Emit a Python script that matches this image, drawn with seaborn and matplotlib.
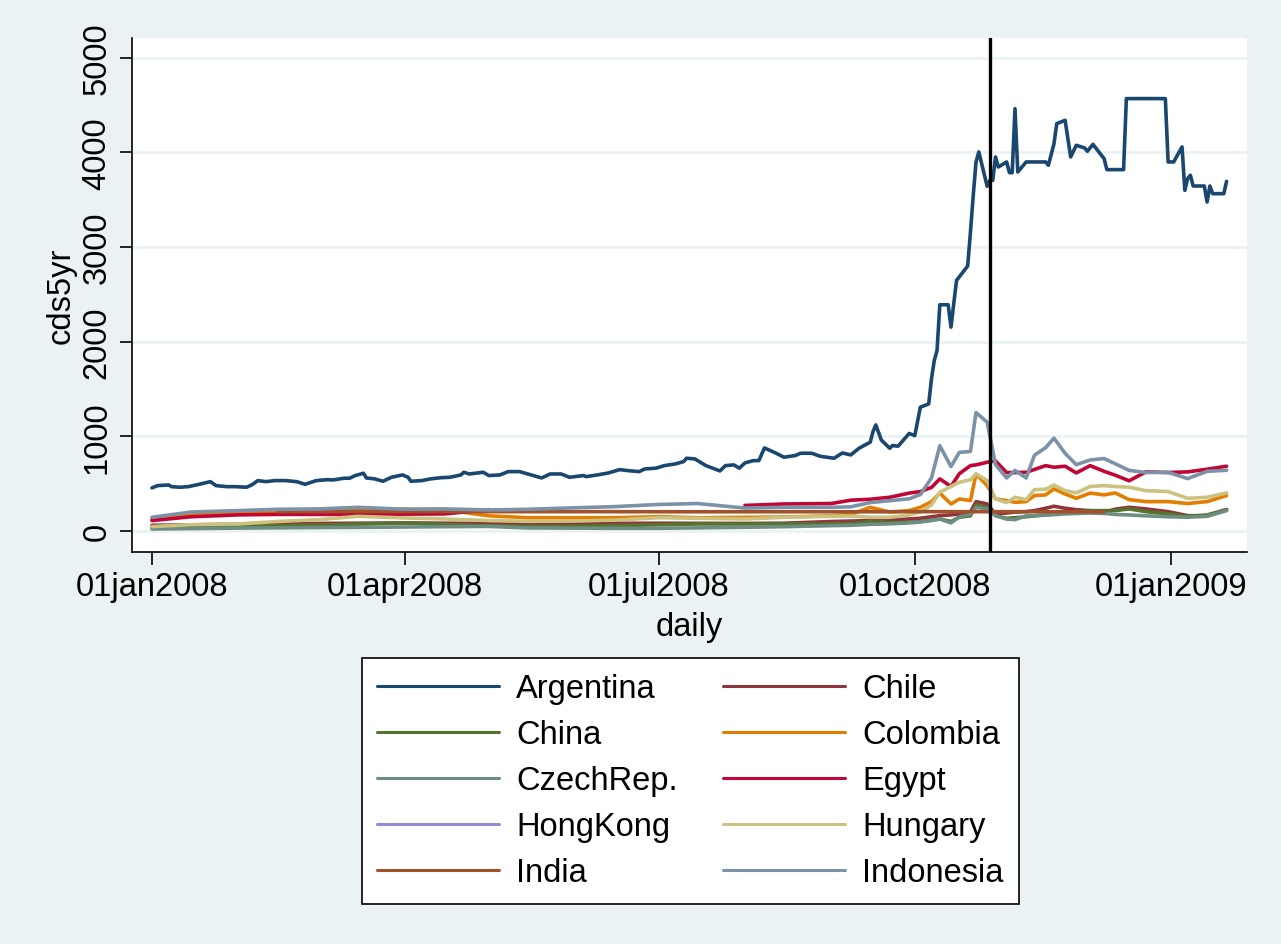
import numpy as np
import pandas as pd
import seaborn as sns
import matplotlib.pyplot as plt
from matplotlib.lines import Line2D

sns.set_style("white")
plt.rcParams['font.family'] = ['Liberation Sans', 'DejaVu Sans']
plt.rcParams['text.color'] = 'black'
plt.rcParams['axes.labelcolor'] = 'black'
plt.rcParams['xtick.color'] = 'black'
plt.rcParams['ytick.color'] = 'black'

nan = np.nan

# Argentina has its own (denser) quote dates
arg_dates = [
    "2008-01-01", "2008-01-03", "2008-01-07", "2008-01-08", "2008-01-11", "2008-01-14",
    "2008-01-17", "2008-01-18", "2008-01-22", "2008-01-24", "2008-01-28", "2008-01-31",
    "2008-02-04", "2008-02-06", "2008-02-08", "2008-02-11", "2008-02-14", "2008-02-18",
    "2008-02-22", "2008-02-25", "2008-02-29", "2008-03-04", "2008-03-06", "2008-03-10",
    "2008-03-12", "2008-03-14", "2008-03-17", "2008-03-18", "2008-03-21", "2008-03-24",
    "2008-03-27", "2008-03-31", "2008-04-02", "2008-04-03", "2008-04-07", "2008-04-10",
    "2008-04-14", "2008-04-17", "2008-04-21", "2008-04-22", "2008-04-24", "2008-04-29",
    "2008-05-01", "2008-05-05", "2008-05-08", "2008-05-12", "2008-05-14", "2008-05-16",
    "2008-05-20", "2008-05-23", "2008-05-27", "2008-05-30", "2008-06-04", "2008-06-05",
    "2008-06-09", "2008-06-13", "2008-06-17", "2008-06-20", "2008-06-24", "2008-06-26",
    "2008-06-30", "2008-07-03", "2008-07-07", "2008-07-10", "2008-07-11", "2008-07-14",
    "2008-07-18", "2008-07-23", "2008-07-25", "2008-07-28", "2008-07-30", "2008-08-01",
    "2008-08-04", "2008-08-06", "2008-08-08", "2008-08-12", "2008-08-15", "2008-08-19",
    "2008-08-21", "2008-08-25", "2008-08-28", "2008-09-02", "2008-09-05", "2008-09-08",
    "2008-09-11", "2008-09-15", "2008-09-16", "2008-09-17", "2008-09-19", "2008-09-22",
    "2008-09-23", "2008-09-25", "2008-09-29", "2008-10-01", "2008-10-03", "2008-10-06",
    "2008-10-07", "2008-10-08", "2008-10-09", "2008-10-10", "2008-10-13", "2008-10-14",
    "2008-10-16", "2008-10-20", "2008-10-21", "2008-10-22", "2008-10-23", "2008-10-24",
    "2008-10-27", "2008-10-28", "2008-10-29", "2008-10-30", "2008-10-31", "2008-11-03",
    "2008-11-04", "2008-11-05", "2008-11-06", "2008-11-07", "2008-11-10", "2008-11-17",
    "2008-11-18", "2008-11-20", "2008-11-21", "2008-11-24", "2008-11-26", "2008-11-28",
    "2008-12-01", "2008-12-02", "2008-12-04", "2008-12-08", "2008-12-09", "2008-12-15",
    "2008-12-16", "2008-12-30", "2008-12-31", "2009-01-02", "2009-01-05", "2009-01-06",
    "2009-01-07", "2009-01-08", "2009-01-09", "2009-01-13", "2009-01-14", "2009-01-15",
    "2009-01-16", "2009-01-20", "2009-01-21",
]
arg_cds = [
    455, 479, 486, 468, 462, 468,
    486, 493, 521, 479, 468, 468,
    462, 489, 532, 521, 532, 532,
    521, 493, 532, 542, 539, 557,
    557, 585, 610, 560, 550, 525,
    567, 592, 567, 525, 532, 550,
    563, 567, 592, 620, 602, 620,
    585, 592, 627, 627, 610, 592,
    560, 602, 602, 567, 585, 574,
    592, 613, 648, 637, 627, 655,
    663, 690, 708, 733, 768, 761,
    690, 634, 690, 698, 663, 719,
    743, 743, 877, 824, 779, 796,
    821, 821, 789, 768, 824, 803,
    874, 938, 1050, 1120, 960, 874,
    902, 895, 1030, 1007, 1307, 1342,
    1607, 1800, 1906, 2389, 2389, 2153,
    2646, 2798, 3157, 3544, 3897, 4003,
    3640, 3703, 3703, 3950, 3844, 3897,
    3784, 3784, 4460, 3791, 3897, 3897,
    3862, 4090, 4302, 4337, 3950, 4073,
    4045, 4010, 4083, 3932, 3816, 3816,
    4566, 4566, 3897, 3897, 4056, 3597,
    3721, 3756, 3643, 3643, 3474, 3643,
    3562, 3562, 3692,
]

# common quote dates for the other countries
dates = [
    "2008-01-01", "2008-01-15", "2008-02-01", "2008-02-15", "2008-03-01", "2008-03-15",
    "2008-04-01", "2008-04-15", "2008-05-01", "2008-05-15", "2008-06-01", "2008-06-15",
    "2008-07-01", "2008-07-15", "2008-08-01", "2008-08-15",
    "2008-09-01", "2008-09-08", "2008-09-15", "2008-09-22", "2008-09-29", "2008-10-03",
    "2008-10-07", "2008-10-10", "2008-10-14", "2008-10-17", "2008-10-21", "2008-10-23",
    "2008-10-27", "2008-10-30", "2008-11-03", "2008-11-06", "2008-11-10", "2008-11-13",
    "2008-11-17", "2008-11-20", "2008-11-24", "2008-11-28", "2008-12-03", "2008-12-08",
    "2008-12-12", "2008-12-17", "2008-12-23", "2008-12-31", "2009-01-07", "2009-01-14",
    "2009-01-21",
]
chile = [
    60, 65, 70, 75, 80, 82, 85, 82, 80, 80, 81, 81, 82, 81, 80, 82,
    100, 105, 109, 115, 127, 135, 150, 162, 170, 180, 200, 310,
    285, 180, 190, 200, 204, 215, 240, 261, 240, 225, 215, 197,
    230, 250, 233, 204, 162, 160, 226,
]
china = [
    39, 45, 50, 55, 62, 72, 85, 70, 55, 48, 50, 56, 65, 74, 74, 74,
    74, 78, 98, 88, 92, 100, 115, 127, 100, 145, 160, 275,
    250, 162, 134, 140, 150, 160, 169, 180, 195, 205, 215, 215,
    215, 233, 204, 180, 155, 169, 226,
]
colombia = [
    130, 170, 195, 210, 215, 225, 230, 225, 160, 140, 140, 140, 151, 140, 144, 148,
    160, 175, 250, 200, 215, 250, 310, 400, 285, 338, 321, 600,
    480, 338, 321, 303, 310, 374, 381, 444, 391, 345, 400, 381,
    402, 331, 310, 310, 290, 310, 374,
]
czech = [
    21, 25, 30, 33, 36, 38, 42, 45, 48, 32, 30, 28, 28, 33, 39, 45,
    56, 60, 70, 75, 85, 95, 110, 127, 85, 150, 175, 250,
    233, 162, 125, 120, 160, 162, 169, 172, 180, 185, 190, 185,
    175, 169, 160, 150, 145, 155, 215,
]
egypt = [
    110, 150, 170, 175, 175, 175, 178, 180, 225, nan, nan, nan, nan, nan, 270, 285,
    290, 325, 335, 356, 400, 416, 460, 550, 470, 605, 690, 698,
    726, 740, 617, 617, 620, 650, 690, 673, 684, 613, 690, 630,
    589, 530, 624, 617, 624, 652, 684,
]
hongkong = [nan] * len(dates)
hungary = [
    46, 67, 74, 100, 120, 155, 137, 127, 110, 102, 105, 115, 140, 134, 127, 144,
    155, 158, 144, 145, 169, 200, 275, 409, 470, 515, 540, 603,
    532, 338, 300, 356, 331, 437, 440, 486, 426, 402, 470, 479,
    470, 462, 426, 416, 345, 356, 402,
]
india = [
    nan, nan, nan, 205, 205, 206, 205, 205, 204, 204, 204, 204, 203, 203, 203, 203,
    203, 203, 203, 203, 204, 204, 204, 204, 204, 204, 204, 204,
    204, 204, 204, 204, 204, 204, 203, 203, 203, 203, 203, 202,
    nan, nan, nan, nan, nan, nan, nan,
]
indonesia = [
    145, 200, 215, 229, 233, 250, 229, 233, 222, 229, 245, 257, 280, 290, 242, 250,
    250, 255, 300, 320, 340, 384, 560, 900, 680, 830, 840, 1250,
    1150, 700, 560, 640, 560, 800, 880, 980, 820, 700, 750, 765,
    710, 640, 617, 620, 553, 630, 641,
]

countries = ["Argentina", "Chile", "China", "Colombia", "CzechRep.",
             "Egypt", "HongKong", "Hungary", "India", "Indonesia"]
colors = ["#1a476f", "#90353b", "#55752f", "#e37e00", "#6e8e84",
          "#c10534", "#938dd2", "#cac27e", "#a0522d", "#7b92a8"]
palette = dict(zip(countries, colors))

tick_dates = ["2008-01-01", "2008-04-01", "2008-07-01", "2008-10-01", "2009-01-01"]
tick_labels = ["01jan2008", "01apr2008", "01jul2008", "01oct2008", "01jan2009"]

# long format table
frames = [pd.DataFrame({"daily": pd.to_datetime(arg_dates), "cds5yr": arg_cds,
                        "country": "Argentina"})]
others = [chile, china, colombia, czech, egypt, hongkong, hungary, india, indonesia]
for name, vals in zip(countries[1:], others):
    frames.append(pd.DataFrame({"daily": pd.to_datetime(dates), "cds5yr": vals,
                                "country": name}))
df = pd.concat(frames, ignore_index=True)
# break lines where a series has no quotes
df["seg"] = df.groupby("country")["cds5yr"].transform(lambda s: s.isna().cumsum())
df = df.dropna(subset=["cds5yr"])
present = [c for c in countries if c in set(df["country"])]

bg = "#eaf2f3"
fs = 23.5
lw = 2.6
fig = plt.figure(figsize=(12.81, 9.45), dpi=100, facecolor=bg)
ax = fig.add_axes([132 / 1281, 1 - 553 / 945, (1247 - 132) / 1281, (553 - 39) / 945])
ax.set_facecolor("white")

sns.lineplot(data=df, x="daily", y="cds5yr", hue="country", units="seg",
             estimator=None, hue_order=present, palette=palette,
             linewidth=lw, legend=False, ax=ax)

ax.axvline(pd.Timestamp("2008-10-28"), color="black", linewidth=2.4)

ax.set_xlim(pd.Timestamp("2007-12-24 20:00"), pd.Timestamp("2009-01-28 08:00"))
ax.set_ylim(-222, 5206)
ax.set_yticks([0, 1000, 2000, 3000, 4000, 5000])
ax.set_xticks(pd.to_datetime(tick_dates))
ax.set_xticklabels(tick_labels)

ax.grid(axis="y", color=bg, linewidth=2)
ax.grid(axis="x", visible=False)
ax.set_axisbelow(True)
for s in ["top", "right"]:
    ax.spines[s].set_visible(False)
for s in ["left", "bottom"]:
    ax.spines[s].set_color("black")
    ax.spines[s].set_linewidth(1.2)

ax.tick_params(axis="both", which="major", direction="out", length=9, width=1.2,
               color="black", labelcolor="black", labelsize=fs, pad=5,
               left=True, bottom=True)
ax.tick_params(axis="y", labelrotation=90)
for lab in ax.get_yticklabels():
    lab.set_va("center")

ax.set_ylabel("cds5yr", fontsize=fs, color="black")
ax.set_xlabel("daily", fontsize=fs, color="black")
ax.yaxis.set_label_coords(-0.05, 0.5)
ax.xaxis.set_label_coords(0.5, -0.114)

# legend filled row by row, as in the original
handles = [Line2D([], [], color=c, linewidth=2.2) for c in colors]
order = list(range(0, 10, 2)) + list(range(1, 10, 2))
leg = fig.legend([handles[i] for i in order], [countries[i] for i in order],
                 ncol=2, loc="upper left", bbox_to_anchor=(362 / 1281, 1 - 659 / 945),
                 frameon=True, fancybox=False, edgecolor="black", facecolor="white",
                 framealpha=1, fontsize=fs, handlelength=3.74, handletextpad=0.52,
                 columnspacing=1.38, labelspacing=0.46, borderpad=0.47, borderaxespad=0)
leg.get_frame().set_linewidth(1.2)
for t in leg.get_texts():
    t.set_color("black")

fig.savefig("out.png", dpi=100, facecolor=bg)
